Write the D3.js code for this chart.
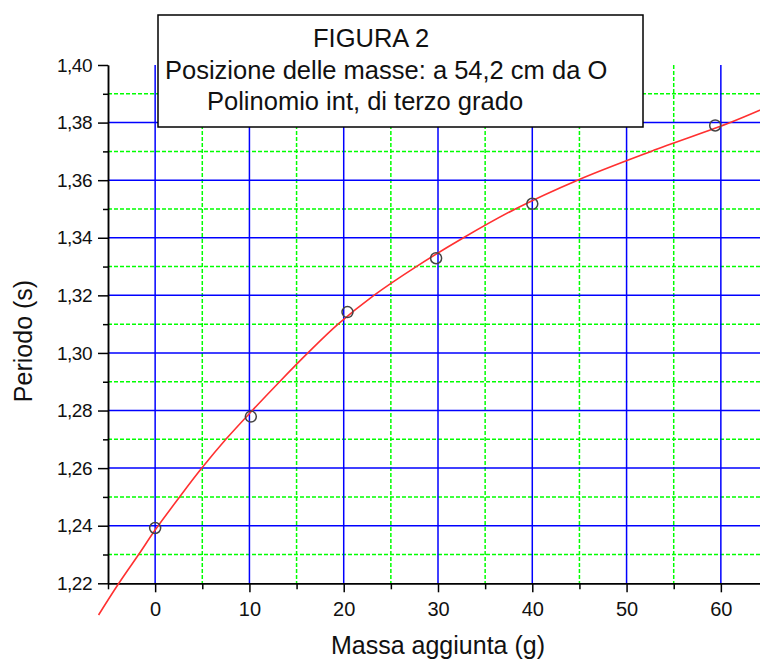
<!DOCTYPE html>
<html>
<head>
<meta charset="utf-8">
<script src="https://cdn.jsdelivr.net/npm/d3@7"></script>
<style>
  body { margin: 0; background: #fff; }
  svg { display: block; font-family: "Liberation Sans", Arial, sans-serif; }
</style>
</head>
<body>
<svg id="chart" width="760" height="661"></svg>
<script>
// measured points (massa aggiunta in g, periodo in s)
var massa   = [0, 10.15, 20.4, 29.8, 40.0, 59.4];
var periodo = [1.2392, 1.2779, 1.3142, 1.3329, 1.3518, 1.379];

// fitted curve
var fitX = [-6.0, -3.85, -1.75, 0, 2.6, 4.95, 7.5, 10.3, 13.2, 16.2, 19.4, 23.2, 27.7, 32.7, 38.2, 44.8, 52.6, 61.0, 65.0];
var fitY = [1.209, 1.22, 1.23, 1.2385, 1.25, 1.26, 1.27, 1.28, 1.29, 1.30, 1.31, 1.32, 1.33, 1.34, 1.35, 1.36, 1.37, 1.38, 1.3855];

var xMajor = [0, 10, 20, 30, 40, 50, 60];
var xMinor = [-5, 5, 15, 25, 35, 45, 55];
var yMajor = [1.22, 1.24, 1.26, 1.28, 1.30, 1.32, 1.34, 1.36, 1.38, 1.40];
var yMinor = [1.23, 1.25, 1.27, 1.29, 1.31, 1.33, 1.35, 1.37, 1.39];

var titleLines = ["FIGURA 2", "Posizione delle masse: a 54,2 cm da O", "Polinomio int, di terzo grado"];

var svg = d3.select("#chart");

var x = d3.scaleLinear().domain([-5, 65]).range([108, 768]);
var y = d3.scaleLinear().domain([1.22, 1.40]).range([583.3, 65]);

var fmt = d => d.toFixed(2).replace(".", ",");

// grid: green minor under blue major
var grid = svg.append("g");
grid.selectAll(".gv").data(xMinor.filter(d => d > -5)).enter().append("line")
    .attr("x1", d => x(d)).attr("x2", d => x(d))
    .attr("y1", y(1.40)).attr("y2", y(1.22))
    .attr("stroke", "#00ff00").attr("stroke-width", 1.5).attr("stroke-dasharray", "4,2");
grid.selectAll(".gh").data(yMinor).enter().append("line")
    .attr("x1", x(-5)).attr("x2", 760)
    .attr("y1", d => y(d)).attr("y2", d => y(d))
    .attr("stroke", "#00ff00").attr("stroke-width", 1.5).attr("stroke-dasharray", "4,2");
grid.selectAll(".bv").data(xMajor).enter().append("line")
    .attr("x1", d => x(d)).attr("x2", d => x(d))
    .attr("y1", y(1.40)).attr("y2", y(1.22))
    .attr("stroke", "#0000ff").attr("stroke-width", 1.5);
grid.selectAll(".bh").data(yMajor.filter(d => d > 1.221 && d < 1.399)).enter().append("line")
    .attr("x1", x(-5)).attr("x2", 760)
    .attr("y1", d => y(d)).attr("y2", d => y(d))
    .attr("stroke", "#0000ff").attr("stroke-width", 1.5);

// axes
var yAxis = svg.append("g").attr("transform", "translate(" + x(-5) + ",0)")
    .call(d3.axisLeft(y).tickValues(yMajor).tickFormat(fmt).tickSize(10).tickSizeOuter(0).tickPadding(6));
var yAxisMinor = svg.append("g").attr("transform", "translate(" + x(-5) + ",0)")
    .call(d3.axisLeft(y).tickValues(yMinor).tickFormat("").tickSize(5).tickSizeOuter(0));
var xAxis = svg.append("g").attr("transform", "translate(0," + y(1.22) + ")")
    .call(d3.axisBottom(x).tickValues(xMajor).tickSize(9).tickSizeOuter(0).tickPadding(10));
var xAxisMinor = svg.append("g").attr("transform", "translate(0," + y(1.22) + ")")
    .call(d3.axisBottom(x).tickValues(xMinor).tickFormat("").tickSize(6).tickSizeOuter(0));

[yAxis, yAxisMinor, xAxis, xAxisMinor].forEach(function(a){
    a.selectAll("path, line").attr("stroke", "#000").attr("stroke-width", 1.5);
});
yAxis.selectAll("text").attr("font-size", 19).attr("fill", "#111")
    .attr("font-family", "Liberation Sans, Arial, sans-serif").attr("letter-spacing", "-0.5");
xAxis.selectAll("text").attr("font-size", 20).attr("fill", "#111")
    .attr("font-family", "Liberation Sans, Arial, sans-serif");

// fitted curve
var fitData = fitX.map((d, i) => ({x: d, y: fitY[i]}));
svg.append("path").datum(fitData)
    .attr("fill", "none").attr("stroke", "#ff3030").attr("stroke-width", 1.6)
    .attr("d", d3.line().x(d => x(d.x)).y(d => y(d.y)).curve(d3.curveCatmullRom));

// data points
svg.selectAll(".pt").data(massa).enter().append("circle")
    .attr("cx", d => x(d)).attr("cy", (d, i) => y(periodo[i]))
    .attr("r", 5.5).attr("fill", "none").attr("stroke", "#444").attr("stroke-width", 1.5);

// axis titles
svg.append("text").attr("x", x(30)).attr("y", 654).attr("text-anchor", "middle")
    .attr("font-size", 25).attr("fill", "#111").text("Massa aggiunta (g)");
svg.append("text").attr("transform", "translate(32,341) rotate(-90)").attr("text-anchor", "middle")
    .attr("font-size", 25).attr("fill", "#111").text("Periodo (s)");

// title box
svg.append("rect").attr("x", 158).attr("y", 15).attr("width", 485).attr("height", 112)
    .attr("fill", "#fff").attr("stroke", "#000").attr("stroke-width", 1.5);
var titleX = [313, 165, 207];
var titleY = [47, 78.5, 110];
svg.selectAll(".tl").data(titleLines).enter().append("text")
    .attr("x", (d, i) => titleX[i]).attr("y", (d, i) => titleY[i])
    .attr("font-size", 25.5).attr("fill", "#111")
    .text(d => d);
</script>
</body>
</html>
